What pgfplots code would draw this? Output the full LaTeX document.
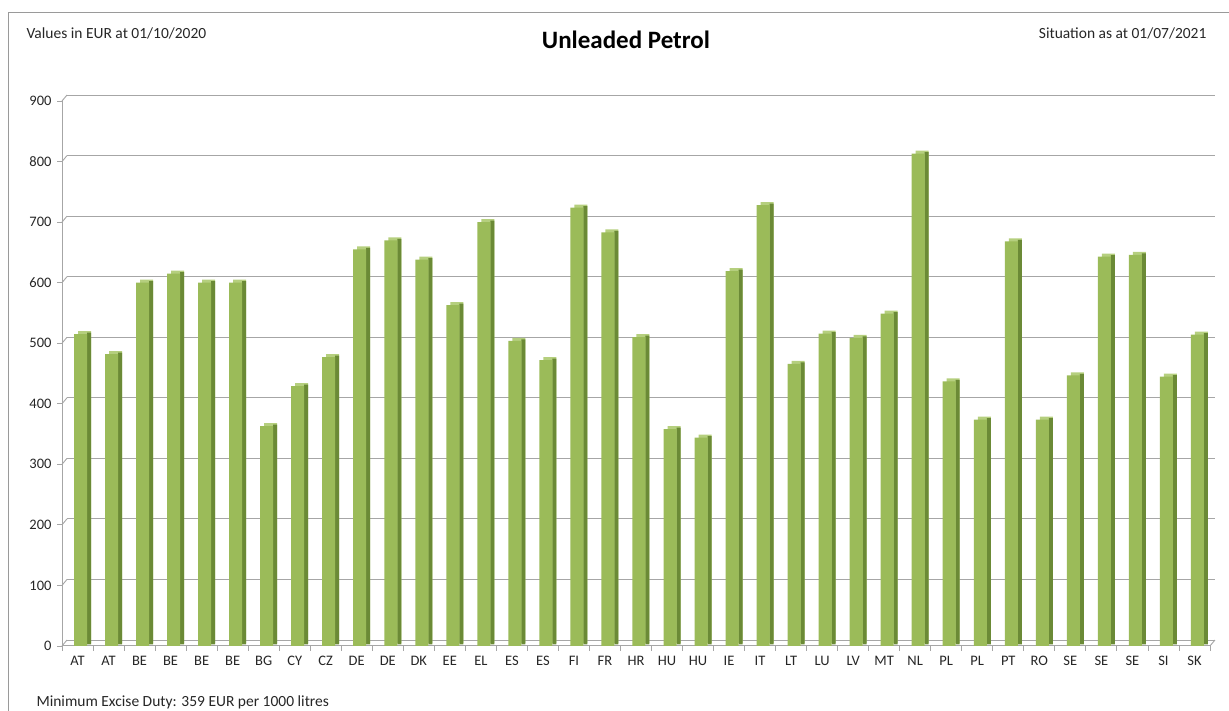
\documentclass[border=0pt]{standalone}
\usepackage{pgfplots}
\pgfplotsset{compat=1.18}
\usepackage{fontspec}
\setmainfont{Carlito}
\definecolor{barfront}{HTML}{9BBB59}
\definecolor{barside}{HTML}{6B8A36}
\definecolor{bartop}{HTML}{B5CF7E}
\definecolor{gridc}{HTML}{A6A6A6}
\definecolor{framec}{HTML}{9A9A9A}
\begin{document}
\begin{tikzpicture}
\path[use as bounding box] (0pt,0pt) rectangle (1229pt,711pt);
\draw[framec,line width=1.2pt] (8.5pt,0pt) -- (8.5pt,698.5pt) -- (1229pt,698.5pt);
\node[anchor=west,font=\fontsize{15.5}{18}\selectfont,text=black!85] at (23pt,678pt) {Values in EUR at 01/10/2020};
\node[anchor=east,font=\fontsize{15.5}{18}\selectfont,text=black!85] at (1210pt,678pt) {Situation as at 01/07/2021};
\node[font=\bfseries\fontsize{25}{29}\selectfont] at (626pt,671pt) {Unleaded Petrol};
\node[anchor=west,font=\fontsize{15.5}{18}\selectfont,text=black!85] at (33pt,9pt) {Minimum Excise Duty: 359 EUR per 1000 litres};
\begin{axis}[
  at={(62pt,65pt)}, anchor=south west,
  scale only axis, width=1148pt, height=545pt,
  xmin=-0.5, xmax=36.5, ymin=0, ymax=900,
  ytick={0,100,...,900},
  xtick={0,...,36},
  xticklabels={AT,AT,BE,BE,BE,BE,BG,CY,CZ,DE,DE,DK,EE,EL,ES,ES,FI,FR,HR,HU,HU,IE,IT,LT,LU,LV,MT,NL,PL,PL,PT,RO,SE,SE,SE,SI,SK},
  minor xtick={-0.5,0.5,...,36.5},
  x tick style={draw=none},
  minor x tick style={draw=gridc, line width=0.8pt},
  y tick style={draw=gridc, line width=0.8pt},
  tick align=outside,
  major tick length=5pt, minor tick length=5pt,
  axis x line*=bottom, axis y line*=left,
  axis line style={gridc, line width=1pt, -},
  ymajorgrids,
  major grid style={gridc, line width=0.9pt, xshift=5pt, yshift=6pt},
  ticklabel style={font=\fontsize{14.5}{17}\selectfont, text=black!85},
  /pgf/number format/assume math mode=true,
  xticklabel style={yshift=-2pt},
  yticklabel style={xshift=-2pt},
  ybar, bar width=13pt,
  clip=false,
]
\addplot[fill=bartop, draw=none, bar shift=7pt, yshift=3pt] coordinates {
(0,515)(1,482)(2,600)(3,615)(4,600)(5,600)(6,363)(7,429)(8,477)(9,655)(10,670)(11,638)(12,563)(13,700)(14,504)(15,472)(16,724)(17,683)(18,510)(19,358)(20,344)(21,619)(22,728)(23,466)(24,516)(25,509)(26,549)(27,813)(28,437)(29,374)(30,668)(31,374)(32,447)(33,643)(34,646)(35,445)(36,514)};
\addplot[fill=barside, draw=none, bar width=4pt, bar shift=11.5pt, yshift=1.5pt] coordinates {
(0,515)(1,482)(2,600)(3,615)(4,600)(5,600)(6,363)(7,429)(8,477)(9,655)(10,670)(11,638)(12,563)(13,700)(14,504)(15,472)(16,724)(17,683)(18,510)(19,358)(20,344)(21,619)(22,728)(23,466)(24,516)(25,509)(26,549)(27,813)(28,437)(29,374)(30,668)(31,374)(32,447)(33,643)(34,646)(35,445)(36,514)};
\addplot[fill=barfront, draw=none, bar shift=3pt] coordinates {
(0,515)(1,482)(2,600)(3,615)(4,600)(5,600)(6,363)(7,429)(8,477)(9,655)(10,670)(11,638)(12,563)(13,700)(14,504)(15,472)(16,724)(17,683)(18,510)(19,358)(20,344)(21,619)(22,728)(23,466)(24,516)(25,509)(26,549)(27,813)(28,437)(29,374)(30,668)(31,374)(32,447)(33,643)(34,646)(35,445)(36,514)};
\pgfplotsinvokeforeach{0,100,...,900}{
  \draw[gridc, line width=0.9pt] (axis cs:-0.5,#1) -- ++(5pt,6pt);
}
\draw[gridc, line width=0.9pt] (axis cs:36.5,0) -- ++(5pt,6pt);
\end{axis}
\end{tikzpicture}
\end{document}
